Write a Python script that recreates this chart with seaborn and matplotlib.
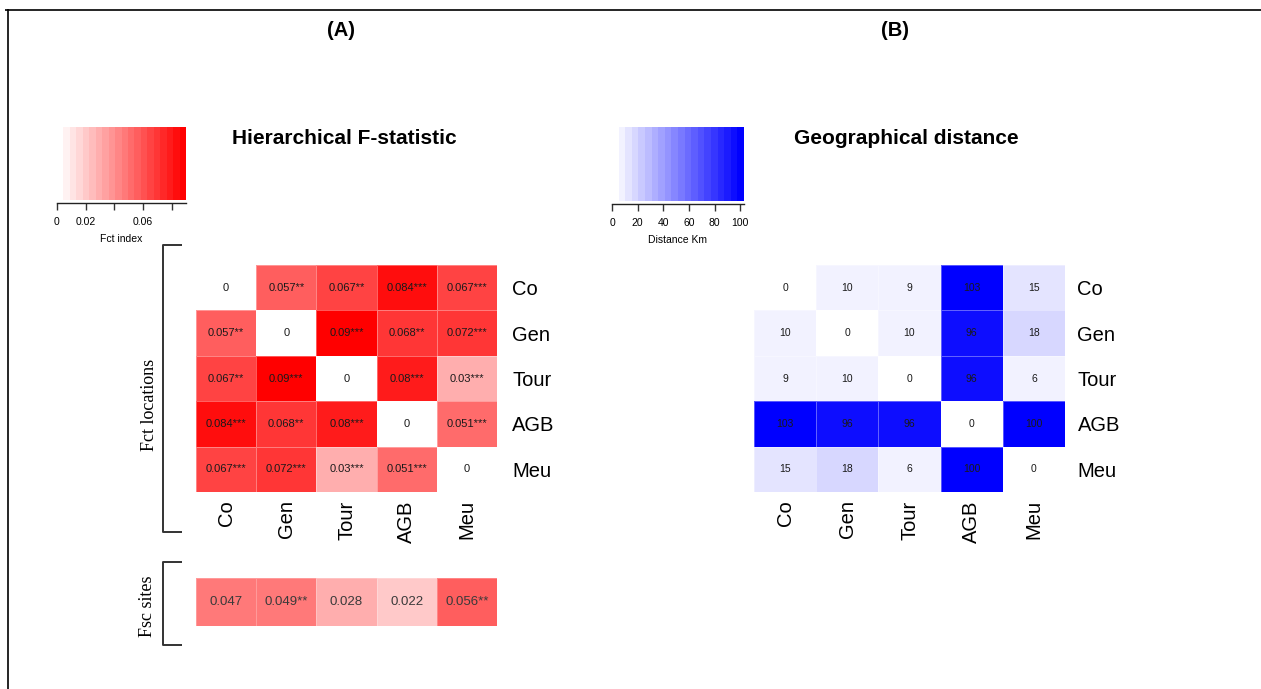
import numpy as np
import pandas as pd
import matplotlib
matplotlib.use("Agg")
import matplotlib.pyplot as plt
from matplotlib.colors import LinearSegmentedColormap, Normalize
from matplotlib.lines import Line2D
import seaborn as sns

# ---- data -------------------------------------------------------------
sites = ["Co", "Gen", "Tour", "AGB", "Meu"]

fct_values = [
    [0.000, 0.057, 0.067, 0.084, 0.067],
    [0.057, 0.000, 0.090, 0.068, 0.072],
    [0.067, 0.090, 0.000, 0.080, 0.030],
    [0.084, 0.068, 0.080, 0.000, 0.051],
    [0.067, 0.072, 0.030, 0.051, 0.000],
]
fct_stars = [
    ["", "**", "**", "***", "***"],
    ["**", "", "***", "**", "***"],
    ["**", "***", "", "***", "***"],
    ["***", "**", "***", "", "***"],
    ["***", "***", "***", "***", ""],
]

fsc_values = [0.047, 0.049, 0.028, 0.022, 0.056]
fsc_stars = ["", "**", "", "", "**"]

distance_km = [
    [0, 10, 9, 103, 15],
    [10, 0, 10, 96, 18],
    [9, 10, 0, 96, 6],
    [103, 96, 96, 0, 100],
    [15, 18, 6, 100, 0],
]

fct_ticks = [0, 0.02, 0.04, 0.06, 0.08]
fct_tick_labels = ["0", "0.02", "", "0.06", ""]
dist_ticks = [0, 20, 40, 60, 80, 100]
dist_tick_labels = ["0", "20", "40", "60", "80", "100"]

# ---- style --------------------------------------------------------------
sns.set_theme(style="white")
plt.rcParams["font.family"] = ["Liberation Sans", "DejaVu Sans"]
plt.rcParams["text.color"] = "black"
plt.rcParams["axes.labelcolor"] = "black"
plt.rcParams["xtick.labelcolor"] = "black"
plt.rcParams["ytick.labelcolor"] = "black"
SERIF = ["Liberation Serif", "DejaVu Serif"]

W, H = 1261, 689
fig = plt.figure(figsize=(W / 100, H / 100), dpi=100)


def px_axes(left, top, right, bottom):
    return fig.add_axes([left / W, 1 - bottom / H, (right - left) / W, (bottom - top) / H])


def fig_line(xs, ys, color="black", lw=1.0):
    fig.add_artist(Line2D(np.array(xs) / W, 1 - np.array(ys) / H,
                          transform=fig.transFigure, color=color, lw=lw,
                          solid_capstyle="butt"))


fct_max = 0.09
dist_max = 103
reds = LinearSegmentedColormap.from_list("white_red", ["#ffffff", "#ff0000"], N=20)
blues = LinearSegmentedColormap.from_list("white_blue", ["#ffffff", "#0000ff"], N=20)

# ---- panel A: Fct matrix ------------------------------------------------
fct_df = pd.DataFrame(fct_values, index=sites, columns=sites)
fct_text = np.array([[f"{v:g}{s}" for v, s in zip(rv, rs)]
                     for rv, rs in zip(fct_values, fct_stars)])

axA = px_axes(196, 265, 497, 492)
sns.heatmap(fct_df, ax=axA, cmap=reds, vmin=0, vmax=fct_max, cbar=False,
            annot=fct_text, fmt="", linewidths=0.5, linecolor=(1, 1, 1, 0.35),
            annot_kws={"fontsize": 8, "color": "#1a1a1a"})
axA.yaxis.tick_right()
axA.set_yticklabels(sites, rotation=0, fontsize=14.5, ha="left")
axA.set_xticklabels(sites, rotation=90, fontsize=14.5)
axA.tick_params(axis="both", length=0)
axA.tick_params(axis="y", pad=11)
axA.tick_params(axis="x", pad=6)
axA.set_xlabel("")
axA.set_ylabel("")

# ---- panel A: Fsc row ---------------------------------------------------
fsc_df = pd.DataFrame([fsc_values], columns=sites)
fsc_text = np.array([[f"{v:g}{s}" for v, s in zip(fsc_values, fsc_stars)]])
axF = px_axes(196, 578, 497, 626)
sns.heatmap(fsc_df, ax=axF, cmap=reds, vmin=0, vmax=fct_max, cbar=False,
            annot=fsc_text, fmt="", linewidths=0.5, linecolor=(1, 1, 1, 0.25),
            annot_kws={"fontsize": 9.5, "color": "#3a3a3a"},
            xticklabels=False, yticklabels=False)

# ---- panel B: distance matrix ------------------------------------------
dist_df = pd.DataFrame(distance_km, index=sites, columns=sites)
axB = px_axes(754, 265, 1065, 492)
sns.heatmap(dist_df, ax=axB, cmap=blues, vmin=0, vmax=dist_max, cbar=False,
            annot=True, fmt="d", linewidths=0.5, linecolor=(1, 1, 1, 0.35),
            annot_kws={"fontsize": 7.5, "color": "#1a1a1a"})
axB.yaxis.tick_right()
axB.set_yticklabels(sites, rotation=0, fontsize=14.5, ha="left")
axB.set_xticklabels(sites, rotation=90, fontsize=14.5)
axB.tick_params(axis="both", length=0)
axB.tick_params(axis="y", pad=9)
axB.tick_params(axis="x", pad=6)
axB.set_xlabel("")
axB.set_ylabel("")


# ---- colour keys --------------------------------------------------------
def colour_key(ax, cmap, vmax, ticks, labels, title):
    edges = np.linspace(0, vmax, cmap.N + 1)
    mids = (edges[:-1] + edges[1:]) / 2
    ax.pcolormesh(edges, [0, 1], mids[np.newaxis, :], cmap=cmap,
                  norm=Normalize(0, vmax), shading="flat")
    ax.set_xlim(0, vmax)
    ax.set_ylim(0, 1)
    for side in ("top", "left", "right"):
        ax.spines[side].set_visible(False)
    ax.spines["bottom"].set_visible(True)
    ax.spines["bottom"].set_color("#222222")
    ax.spines["bottom"].set_linewidth(1.0)
    ax.spines["bottom"].set_position(("outward", 2))
    ax.set_yticks([])
    ax.set_xticks(ticks)
    ax.set_xticklabels(labels, fontsize=7.5)
    ax.tick_params(axis="x", bottom=True, length=5, width=1.0,
                   color="#333333", pad=5)
    ax.set_xlabel(title, fontsize=7.5, labelpad=5)


cbA = px_axes(57, 127, 186, 200)
colour_key(cbA, reds, fct_max, fct_ticks, fct_tick_labels, "Fct index")
cbB = px_axes(612, 127, 744, 201)
colour_key(cbB, blues, dist_max, dist_ticks, dist_tick_labels, "Distance Km")

# ---- titles and labels --------------------------------------------------
fig.text(341 / W, 1 - 31 / H, "(A)", fontsize=14.5, fontweight="bold",
         ha="center", va="center")
fig.text(895 / W, 1 - 31 / H, "(B)", fontsize=14.5, fontweight="bold",
         ha="center", va="center")
fig.text(344 / W, 1 - 138 / H, "Hierarchical F-statistic", fontsize=15,
         fontweight="bold", ha="center", va="center")
fig.text(906 / W, 1 - 138 / H, "Geographical distance", fontsize=15,
         fontweight="bold", ha="center", va="center")
fig.text(150 / W, 1 - 405 / H, "Fct locations", family=SERIF, fontsize=13,
         rotation=90, ha="center", va="center")
fig.text(148 / W, 1 - 606 / H, "Fsc sites", family=SERIF, fontsize=13,
         rotation=90, ha="center", va="center")

# brackets grouping the two rows of panel A
fig_line([182, 163, 163, 182], [245, 245, 532, 532], color="#333333", lw=1.4)
fig_line([182, 163, 163, 182], [562, 562, 645, 645], color="#333333", lw=1.4)

# page frame
fig_line([5, W], [9.5, 9.5], color="black", lw=1.2)
fig_line([7.5, 7.5], [9, H], color="black", lw=1.2)

fig.savefig("out.png", dpi=100)
